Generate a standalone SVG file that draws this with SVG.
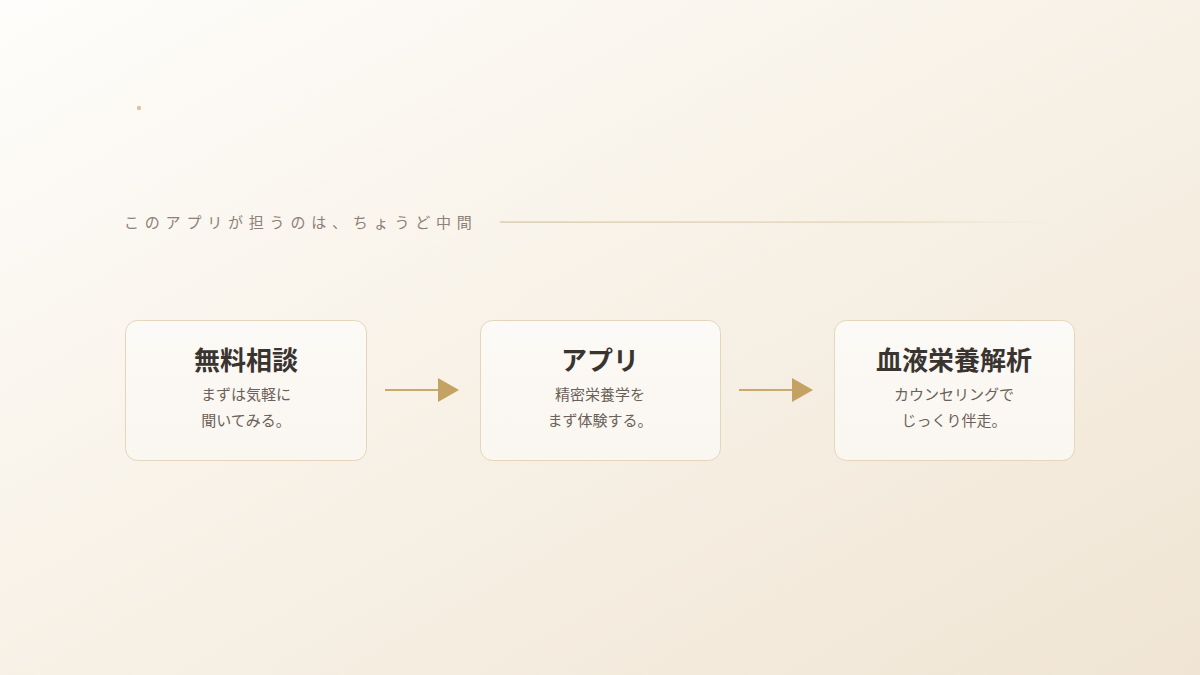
<svg xmlns="http://www.w3.org/2000/svg" width="1200" height="675" viewBox="0 0 1200 675">
<defs>
<linearGradient id="bg" x1="0" y1="0" x2="1" y2="1">
<stop offset="0" stop-color="#fefdfb"/>
<stop offset="0.45" stop-color="#f8f2e8"/>
<stop offset="1" stop-color="#f0e5d4"/>
</linearGradient>
<linearGradient id="rule" x1="0" y1="0" x2="1" y2="0">
<stop offset="0" stop-color="#d4c3a3"/>
<stop offset="0.7" stop-color="#dccdb2" stop-opacity="0.8"/>
<stop offset="1" stop-color="#e6d9c2" stop-opacity="0"/>
</linearGradient>
<linearGradient id="card" x1="0" y1="0" x2="0" y2="1">
<stop offset="0" stop-color="#fcfaf6"/>
<stop offset="1" stop-color="#faf6f0"/>
</linearGradient>
<style>
.card{fill:url(#card);stroke:#e5d6bb;stroke-width:1}
.t{font-family:"Noto Sans CJK JP","Noto Sans",sans-serif;font-size:26px;font-weight:700;fill:#3a3430;text-anchor:middle}
.s{font-family:"Noto Sans CJK JP","Noto Sans",sans-serif;font-size:15px;fill:#6b615a;text-anchor:middle}
.h{font-family:"Noto Sans CJK JP","Noto Sans",sans-serif;font-size:15px;fill:#8c8178;letter-spacing:5.8px}
.ln{stroke:#c9a96e;stroke-width:2}
.hd{fill:#c4a263}
</style>
</defs>
<rect width="1200" height="675" fill="url(#bg)"/>
<circle cx="139" cy="108" r="2.2" fill="#d9c6a2"/>
<text class="h" x="124" y="228">このアプリが担うのは、ちょうど中間</text>
<rect x="500" y="221.5" width="560" height="1.2" fill="url(#rule)"/>
<g id="node1">
<rect class="card" x="125.5" y="320.5" width="241" height="140" rx="12"/>
<text class="t" x="246" y="370">無料相談</text>
<text class="s" x="246" y="399.5">まずは気軽に</text>
<text class="s" x="246" y="425.5">聞いてみる。</text>
</g>
<g id="node2">
<rect class="card" x="480.5" y="320.5" width="240" height="140" rx="12"/>
<text class="t" x="600" y="370">アプリ</text>
<text class="s" x="600" y="399.5">精密栄養学を</text>
<text class="s" x="600" y="425.5">まず体験する。</text>
</g>
<g id="node3">
<rect class="card" x="834.5" y="320.5" width="240" height="140" rx="12"/>
<text class="t" x="954" y="370">血液栄養解析</text>
<text class="s" x="954" y="399.5">カウンセリングで</text>
<text class="s" x="954" y="425.5">じっくり伴走。</text>
</g>
<g id="connectors">
<line class="ln" x1="385" y1="390" x2="438" y2="390"/>
<polygon class="hd" points="438,378 459,390 438,402"/>
<line class="ln" x1="739" y1="390" x2="792" y2="390"/>
<polygon class="hd" points="792,378 813,390 792,402"/>
</g>
</svg>
